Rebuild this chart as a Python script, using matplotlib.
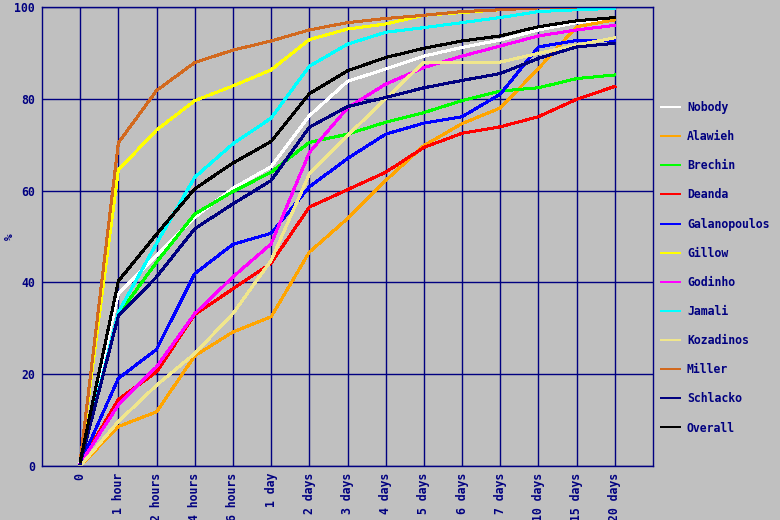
import numpy as np
import matplotlib
matplotlib.use("Agg")
import matplotlib.pyplot as plt

categories = ["0", "1 hour", "2 hours", "4 hours", "6 hours", "1 day", "2 days",
              "3 days", "4 days", "5 days", "6 days", "7 days", "10 days",
              "15 days", "20 days"]

nobody = [1, 37.6, 45.9, 54.2, 60.5, 65.2, 76.3, 83.8, 86.5, 89.3, 91.2, 92.8, 95.0, 96.6, 97.5]
alawieh = [0, 8.6, 11.8, 24.0, 29.2, 32.5, 46.6, 53.9, 62.2, 69.8, 74.6, 78.0, 86.6, 95.7, 97.2]
brechin = [0.5, 33.0, 44.4, 54.9, 59.8, 64.0, 70.5, 72.3, 74.9, 77.0, 79.6, 81.7, 82.4, 84.4, 85.2]
deanda = [0.5, 14.5, 20.5, 33.0, 38.6, 44.2, 56.4, 60.2, 64.0, 69.4, 72.5, 73.9, 76.1, 79.9, 82.7]
galanopoulos = [0.5, 19.1, 25.4, 41.9, 48.3, 50.7, 60.8, 67.0, 72.3, 74.7, 76.1, 81.0, 91.3, 92.7, 92.6]
gillow = [1, 64.5, 73.2, 79.6, 82.8, 86.3, 92.9, 95.2, 96.3, 98.2, 98.8, 99.4, 99.9, 100, 100]
godinho = [0.5, 13.3, 21.6, 33.2, 41.2, 48.4, 68.3, 78.0, 83.2, 86.8, 89.3, 91.5, 93.7, 95.0, 96.0]
jamali = [0.5, 33.5, 48.5, 62.9, 70.2, 75.8, 87.1, 91.9, 94.5, 95.5, 96.6, 97.7, 99.0, 99.4, 99.7]
kozadinos = [0, 9.7, 17.6, 24.5, 33.2, 44.8, 63.6, 72.0, 80.0, 88.0, 88.0, 88.0, 89.9, 91.7, 93.3]
miller = [1, 70.4, 81.8, 87.9, 90.6, 92.6, 95.0, 96.6, 97.5, 98.2, 99.0, 99.4, 99.8, 100, 100]
schlacko = [0.5, 32.7, 41.2, 51.7, 57.1, 62.2, 73.8, 78.3, 80.3, 82.4, 84.0, 85.5, 88.8, 91.3, 92.1]
overall = [1, 40.3, 50.5, 60.4, 66.0, 70.7, 81.1, 86.1, 89.0, 91.0, 92.6, 93.7, 95.7, 97.0, 97.7]

names = ["Nobody", "Alawieh", "Brechin", "Deanda", "Galanopoulos", "Gillow",
         "Godinho", "Jamali", "Kozadinos", "Miller", "Schlacko", "Overall"]
series = [nobody, alawieh, brechin, deanda, galanopoulos, gillow,
          godinho, jamali, kozadinos, miller, schlacko, overall]
colors = ["#ffffff", "#ffa500", "#00ff00", "#ff0000", "#0000ff", "#ffff00",
          "#ff00ff", "#00ffff", "#f0e68c", "#d2691e", "#000080", "#000000"]

navy = "#000080"
bg = "#c0c0c0"

plt.rcParams["font.family"] = "DejaVu Sans Mono"
plt.rcParams["font.weight"] = "bold"

fig = plt.figure(figsize=(7.8, 5.2), dpi=100, facecolor=bg)
ax = fig.add_axes([42 / 780, 1 - 466 / 520, (653 - 42) / 780, (466 - 7) / 520])
ax.set_facecolor(bg)

x = np.arange(len(categories))
for name, vals, c in zip(names, series, colors):
    ax.plot(x, vals, color=c, lw=1.44, label=name, antialiased=False)

ax.set_xlim(-1, len(categories))
ax.set_ylim(0, 100)
ax.set_xticks(x)
ax.set_xticklabels(categories, rotation=90, color=navy, fontsize=8.3, fontweight="bold")
ax.set_yticks([0, 20, 40, 60, 80, 100])
ax.set_yticklabels(["0", "20", "40", "60", "80", "100"], color=navy, fontsize=8.3, fontweight="bold")
ax.tick_params(axis="both", which="both", length=0, pad=5)
ax.grid(True, color=navy, lw=1)
ax.set_axisbelow(True)
for s in ax.spines.values():
    s.set_color(navy)
    s.set_linewidth(1)
ax.set_ylabel("%", color=navy, fontsize=8, fontweight="bold")
ax.yaxis.set_label_coords(-0.045, 0.5)

leg = ax.legend(loc="upper left", bbox_to_anchor=(661 / 780, 1 - 101 / 520),
                bbox_transform=fig.transFigure, frameon=False, fontsize=8.3,
                labelspacing=1.4, handlelength=1.65, handletextpad=0.6,
                borderpad=0, borderaxespad=0)
for t in leg.get_texts():
    t.set_color(navy)
    t.set_fontweight("bold")

fig.savefig("out.png", dpi=100, facecolor=bg)
